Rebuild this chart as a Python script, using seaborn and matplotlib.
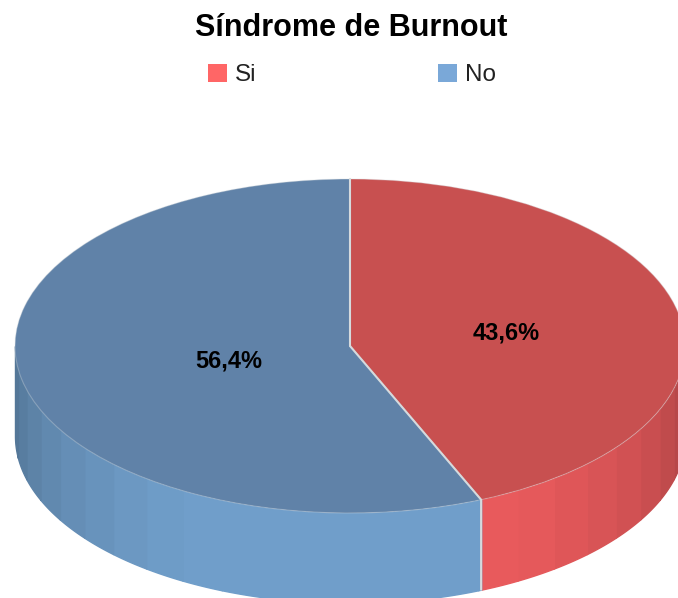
"""
Sindrome de Burnout, 3D looking pie chart
"""

import numpy as np
import seaborn as sns
import matplotlib.pyplot as plt
from matplotlib.patches import Patch

CATEGORIES = ["Si", "No"]
VALUES = [43.6, 56.4]
TITLE = "Síndrome de Burnout"

TOP_COLORS = ["#C85050", "#6082A8"]
WALL_COLORS = ["#E85A5C", "#709ECA"]
LEGEND_COLORS = ["#FF6666", "#7AA8D8"]
EDGE_COLOR = "#D5DADD"

WIDTH = 678
HEIGHT = 598
# pie centre and radii in pixels of the picture
CX = 350
CY = 346
RX = 335
RY = 167
DEPTH = 90 / RY
BAND = 7.5


def wall_shade(angle):
    """
    Brightness of the side wall, the front is flat and the sides get darker.
    """
    return min(1, 0.73 + 0.27 * abs(np.cos(np.radians(angle))) / 0.88)


def draw_wall(ax, start, end, color):
    """
    Draw the visible side of one slice as narrow shaded bands.
    Angles are clockwise from the top of the pie.
    """
    start = max(start, 90)
    end = min(end, 270)
    inner = np.arange(90, 270, BAND)
    edges = [start] + [a for a in inner if start < a < end] + [end]
    base = np.array(sns.color_palette([color])[0])
    for a, b in zip(edges[:-1], edges[1:]):
        theta = np.radians(np.linspace(a, b, 20))
        x = np.sin(theta)
        y = np.cos(theta)
        shade = base * wall_shade((a + b) / 2)
        ax.fill_between(x, y, y - DEPTH, color=shade, linewidth=1, zorder=0.5)


def main():

    sns.set_theme(style="white")
    plt.rcParams["font.family"] = ["Liberation Sans", "DejaVu Sans"]

    fig = plt.figure(figsize=(WIDTH / 100, HEIGHT / 100), dpi=100)
    ax = fig.add_axes([0, 0, 1, 1])

    wedges, _, pct_texts = ax.pie(
        VALUES, colors=TOP_COLORS, startangle=90, counterclock=False,
        autopct=lambda p: f"{p:.1f}%".replace(".", ","),
        wedgeprops={"edgecolor": (0.84, 0.86, 0.87, 0.35), "linewidth": 0.8,
                    "zorder": 1},
        textprops={"fontsize": 17, "fontweight": "bold", "color": "black",
                   "zorder": 3})

    # squash the circle to an ellipse, axes limits are in pie radius units
    ax.set_aspect("auto")
    ax.set_xlim(-CX / RX, (WIDTH - CX) / RX)
    ax.set_ylim((CY - HEIGHT) / RY, CY / RY)

    # side wall of every slice
    start = 0
    for value, color in zip(VALUES, WALL_COLORS):
        end = start + value * 3.6
        draw_wall(ax, start, end, color)
        start = end

    # light lines where the two slices meet, on the top and on the front wall
    front = np.radians(VALUES[0] * 3.6)
    ax.plot([0, 0], [0, 1], color=EDGE_COLOR, linewidth=1.5, zorder=2)
    ax.plot([0, np.sin(front), np.sin(front)],
            [0, np.cos(front), np.cos(front) - DEPTH],
            color=EDGE_COLOR, linewidth=1.5, zorder=2)

    # label places as measured on the picture
    pct_texts[0].set_position(((506 - CX) / RX, (CY - 333) / RY))
    pct_texts[1].set_position(((229 - CX) / RX, (CY - 361) / RY))

    fig.text(351 / WIDTH, 1 - 28 / HEIGHT, TITLE, ha="center", va="center",
             fontsize=22, fontweight="bold", color="black")

    handles = [Patch(facecolor=c, edgecolor="none") for c in LEGEND_COLORS]
    fig.legend(handles, CATEGORIES, ncol=2, frameon=False, fontsize=17.5,
               loc="center", bbox_to_anchor=(352 / WIDTH, 1 - 75 / HEIGHT),
               handlelength=0.78, handleheight=0.75, handletextpad=0.33,
               columnspacing=7.5, labelcolor="#222222")

    fig.savefig("out.png", dpi=100)


if __name__ == "__main__":
    main()
